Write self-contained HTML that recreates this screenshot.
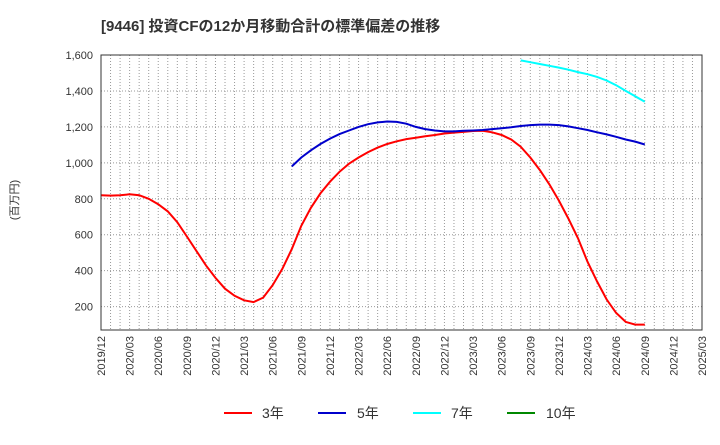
<!DOCTYPE html>
<html><head><meta charset="utf-8"><style>
body{margin:0;background:#fff;font-family:"Liberation Sans","Noto Sans CJK JP",sans-serif;}
</style></head><body>
<svg id="c" width="720" height="440" xmlns="http://www.w3.org/2000/svg" font-family="Liberation Sans, Noto Sans CJK JP, sans-serif">
<text x="101" y="31" font-size="15" font-weight="bold" fill="#333">[9446]  投資CFの12か月移動合計の標準偏差の推移</text>
<text transform="translate(18,200) rotate(-90)" text-anchor="middle" font-size="11" fill="#333">(百万円)</text>
<g id="grid"></g><g id="series"></g><g id="axes"></g>
<g>
<line x1="224" y1="413" x2="252" y2="413" stroke="#f00" stroke-width="2"/><text x="262" y="418" font-size="14" fill="#333">3年</text>
<line x1="318" y1="413" x2="346" y2="413" stroke="#00c" stroke-width="2"/><text x="357" y="418" font-size="14" fill="#333">5年</text>
<line x1="413" y1="413" x2="441" y2="413" stroke="#0ff" stroke-width="2"/><text x="451" y="418" font-size="14" fill="#333">7年</text>
<line x1="507" y1="413" x2="535" y2="413" stroke="#080" stroke-width="2"/><text x="546" y="418" font-size="14" fill="#333">10年</text>
</g>
</svg>
<script>
const xTickLabels=["2019/12","2020/03","2020/06","2020/09","2020/12","2021/03","2021/06","2021/09","2021/12","2022/03","2022/06","2022/09","2022/12","2023/03","2023/06","2023/09","2023/12","2024/03","2024/06","2024/09","2024/12","2025/03"];
const yTicks=[200,400,600,800,1000,1200,1400,1600];
const s3Start=0;
const s3=[820,818,820,825,820,800,770,730,670,590,510,430,360,300,260,235,225,250,320,410,520,650,750,830,895,950,995,1030,1060,1085,1105,1120,1132,1140,1148,1155,1163,1168,1172,1177,1178,1170,1155,1130,1090,1030,960,880,790,690,580,450,340,240,165,115,100,100];
const s5Start=20;
const s5=[980,1030,1070,1105,1135,1160,1180,1200,1215,1225,1230,1228,1218,1200,1188,1180,1175,1175,1178,1180,1183,1188,1193,1198,1205,1210,1213,1213,1210,1203,1193,1183,1170,1158,1145,1130,1118,1102];
const s7Start=44;
const s7=[1570,1560,1550,1540,1530,1518,1505,1493,1478,1458,1432,1400,1370,1340];
const L=101,R=702,T=55,B=330,yMin=70,yMax=1600,nMonths=63;
const xs=i=>L+i*(R-L)/nMonths;
const ys=v=>B-(v-yMin)*(B-T)/(yMax-yMin);
const NS="http://www.w3.org/2000/svg";
function mk(tag,attrs,parent){const e=document.createElementNS(NS,tag);for(const k in attrs)e.setAttribute(k,attrs[k]);parent.appendChild(e);return e;}
const grid=document.getElementById('grid'),axes=document.getElementById('axes'),ser=document.getElementById('series');
for(let i=1;i<nMonths;i++){const l=mk('line',{x1:xs(i),x2:xs(i),y1:T,y2:B,stroke:'#999','stroke-dasharray':'1,2','stroke-width':1},grid);

}
yTicks.forEach(v=>{const l=mk('line',{x1:L,x2:R,y1:ys(v),y2:ys(v),stroke:'#999','stroke-dasharray':'1,2'},grid);


const t=mk('text',{x:L-8,y:ys(v)+4,'text-anchor':'end','font-size':11,fill:'#333'},axes);t.textContent=v.toLocaleString('en-US');

});
xTickLabels.forEach((s,i)=>{const x=xs(i*3);const t=mk('text',{transform:`translate(${x+4},${B+6}) rotate(-90)`,'text-anchor':'end','font-size':11,fill:'#333'},axes);t.textContent=s;

});
const fr=mk('rect',{x:L,y:T,width:R-L,height:B-T,fill:'none',stroke:'#333','stroke-width':1},axes);


[[s3,s3Start,'#f00','series-3y'],[s5,s5Start,'#00c','series-5y'],[s7,s7Start,'#0ff','series-7y']].forEach(([d,st,c,n])=>{
const p=mk('path',{d:d.map((v,i)=>(i?'L':'M')+xs(st+i).toFixed(1)+','+ys(v).toFixed(1)).join(''),fill:'none',stroke:c,'stroke-width':2},ser);

});
</script>
</body></html>
